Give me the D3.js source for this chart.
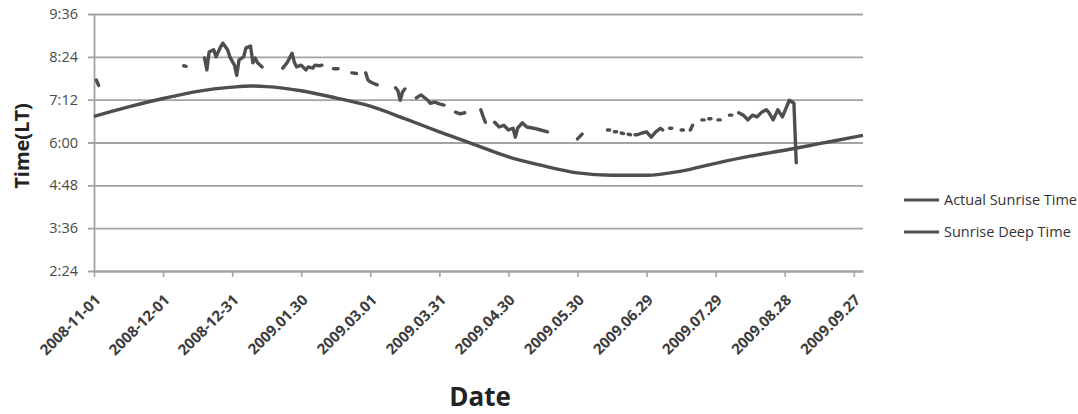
<!DOCTYPE html>
<html><head><meta charset="utf-8">
<script src="https://cdn.jsdelivr.net/npm/d3@7/dist/d3.min.js"></script>
<style>body{margin:0;background:#fff;} svg{display:block;font-family:"Open Sans",sans-serif;}</style>
</head><body><svg id="chart" width="1078" height="414"></svg>
<script>
// ---- data ----
const xTickDates = ["2008-11-01","2008-12-01","2008-12-31","2009-01-30","2009-03-01","2009-03-31","2009-04-30","2009-05-30","2009-06-29","2009-07-29","2009-08-28","2009-09-27"];
const xTickLabels = ["2008-11-01","2008-12-01","2008-12-31","2009.01.30","2009.03.01","2009.03.31","2009.04.30","2009.05.30","2009.06.29","2009.07.29","2009.08.28","2009.09.27"];
const yTickLabels = ["2:24","3:36","4:48","6:00","7:12","8:24","9:36"];

// Actual Sunrise Time (smooth curve)
const sunriseDates = ["2008-11-01","2008-11-16","2008-12-01","2008-12-16","2008-12-31","2009-01-08","2009-01-15","2009-01-30","2009-02-14","2009-03-01","2009-03-16","2009-03-31","2009-04-15","2009-04-30","2009-05-15","2009-05-30","2009-06-14","2009-06-29","2009-07-14","2009-07-29","2009-08-13","2009-08-28","2009-09-12","2009-09-27","2009-10-01"];
const sunriseTimes = ["6:44","7:00","7:14","7:26","7:33","7:35","7:34","7:27","7:15","7:01","6:40","6:18","5:57","5:36","5:21","5:09","5:05","5:05","5:12","5:25","5:37","5:47","5:58","6:09","6:12"];

// Sunrise Deep Time (observed, with gaps = null)
const deepDates = [
 "2008-11-02","2008-11-03","gap",
 "2008-12-10","2008-12-11","gap",
 "2008-12-19","2008-12-20","2008-12-21","2008-12-23","2008-12-24","2008-12-26","2008-12-27","2008-12-29","2008-12-30","2009-01-01","2009-01-02","2009-01-03","2009-01-05","2009-01-06","2009-01-08","2009-01-09","2009-01-10","2009-01-11","2009-01-13","gap",
 "2009-01-22","2009-01-24","2009-01-26","2009-01-27","2009-01-28","2009-01-30","2009-02-01","2009-02-02","2009-02-04","2009-02-05","2009-02-07","2009-02-08","gap",
 "2009-02-13","2009-02-15","gap",
 "2009-02-21","2009-02-23","gap",
 "2009-02-27","2009-02-28","2009-03-01","2009-03-02","2009-03-04","gap",
 "2009-03-12","2009-03-13","2009-03-14","2009-03-15","2009-03-16","gap",
 "2009-03-21","2009-03-23","2009-03-26","2009-03-27","2009-03-29","2009-03-31","2009-04-02","gap",
 "2009-04-07","2009-04-09","2009-04-11","gap",
 "2009-04-18","2009-04-19","2009-04-20","gap",
 "2009-04-24","2009-04-26","2009-04-28","2009-04-30","2009-05-02","2009-05-03","2009-05-04","2009-05-06","2009-05-08","2009-05-11","2009-05-14","2009-05-17","gap",
 "2009-05-30","2009-06-01","gap",
 "2009-06-12","2009-06-13","gap",
 "2009-06-15","2009-06-16","gap",
 "2009-06-18","2009-06-19","gap",
 "2009-06-21","2009-06-22","gap",
 "2009-06-24","2009-06-25","2009-06-27","2009-06-29","2009-07-01","2009-07-03","2009-07-05","2009-07-06","gap",
 "2009-07-09","2009-07-10","gap",
 "2009-07-14","2009-07-15","gap",
 "2009-07-18","2009-07-19","gap",
 "2009-07-23","2009-07-24","gap",
 "2009-07-26","2009-07-27","gap",
 "2009-07-30","2009-07-31","gap",
 "2009-08-04","2009-08-05","gap",
 "2009-08-08","2009-08-10","2009-08-12","2009-08-14","2009-08-16","2009-08-18","2009-08-20","2009-08-21","2009-08-23","2009-08-25","2009-08-27","2009-08-30","2009-09-01","2009-09-02"
];
const deepTimes = [
 "7:45","7:36",null,
 "8:09","8:08",null,
 "8:22","8:02","8:32","8:36","8:24","8:41","8:47","8:36","8:24","8:10","7:53","8:19","8:24","8:39","8:42","8:14","8:22","8:14","8:07",null,
 "8:05","8:15","8:30","8:15","8:07","8:10","8:02","8:07","8:05","8:10","8:09","8:10",null,
 "8:04","8:04",null,
 "7:57","7:56",null,
 "7:57","7:45","7:42","7:40","7:37",null,
 "7:32","7:27","7:11","7:25","7:30",null,
 "7:15","7:20","7:11","7:06","7:08","7:05","7:03",null,
 "6:51","6:48","6:50",null,
 "6:55","6:44","6:34",null,
 "6:34","6:26","6:29","6:21","6:24","6:09","6:24","6:33","6:26","6:24","6:21","6:18",null,
 "6:06","6:14",null,
 "6:21","6:21",null,
 "6:18","6:18",null,
 "6:16","6:15",null,
 "6:14","6:13",null,
 "6:13","6:13","6:16","6:18","6:09","6:18","6:24","6:21",null,
 "6:24","6:24",null,
 "6:21","6:21",null,
 "6:21","6:29",null,
 "6:38","6:38",null,
 "6:40","6:40",null,
 "6:38","6:38",null,
 "6:46","6:46",null,
 "6:50","6:46","6:38","6:46","6:43","6:51","6:55","6:51","6:38","6:55","6:43","7:11","7:06","5:26"
];

const seriesNames = ["Actual Sunrise Time","Sunrise Deep Time"];

// ---- helpers ----
const toMin = s => { const p = s.split(":").map(Number); return p[0]*60 + p[1]; };
const parse = d3.utcParse("%Y-%m-%d");

const L = 94, R = 863, T = 14, B = 271;
const svg = d3.select("#chart");

const x = d3.scaleUtc().domain([parse("2008-11-01"), parse("2009-10-01")]).range([L, R]);
const y = d3.scaleLinear().domain([toMin("2:24"), toMin("9:36")]).range([B, T]);

const gridCol = "#a3a3a3", textCol = "#4a4a4a", lineCol = "#4e4e4e";

// y axis with gridlines
const yAxis = d3.axisLeft(y)
  .tickValues(yTickLabels.map(toMin))
  .tickFormat((d, i) => yTickLabels[i])
  .tickSizeInner(-(R - L)).tickSizeOuter(0).tickPadding(16);
const gy = svg.append("g").attr("transform", `translate(${L},0)`).call(yAxis);
gy.select(".domain").attr("stroke", gridCol).attr("stroke-width", 1.8);
gy.selectAll(".tick line").attr("stroke", gridCol).attr("stroke-width", 1.8).attr("x1", -6);
gy.selectAll(".tick text").attr("fill", textCol).style("font-size", "14.5px").style("font-family", "Open Sans");

// x axis
const xAxis = d3.axisBottom(x)
  .tickValues(xTickDates.map(parse))
  .tickFormat((d, i) => xTickLabels[i])
  .tickSizeInner(6).tickSizeOuter(0);
const gx = svg.append("g").attr("transform", `translate(0,${B})`).call(xAxis);
gx.select(".domain").attr("stroke", gridCol).attr("stroke-width", 1.8);
gx.selectAll(".tick line").attr("stroke", gridCol).attr("stroke-width", 1.6);
gx.selectAll(".tick text")
  .attr("fill", "#3c3c3c").attr("x", 0).attr("y", 0).attr("dy", 0)
  .attr("text-anchor", "end")
  .attr("transform", "translate(7,30) rotate(-45)")
  .style("font-size", "15px").style("font-weight", 700).style("font-family", "Open Sans");

// series
const sunData = sunriseDates.map((d, i) => ({ date: parse(d), v: toMin(sunriseTimes[i]) }));
const deepData = deepDates.map((d, i) => ({ date: d === "gap" ? null : parse(d), v: deepTimes[i] === null ? null : toMin(deepTimes[i]) }));

const sunLine = d3.line().x(d => x(d.date)).y(d => y(d.v)).curve(d3.curveMonotoneX);
const deepLine = d3.line().defined(d => d.v !== null && d.date !== null).x(d => x(d.date)).y(d => y(d.v));

svg.append("path").datum(sunData).attr("d", sunLine)
  .attr("fill", "none").attr("stroke", lineCol).attr("stroke-width", 3.4).attr("stroke-linejoin", "round");
svg.append("path").datum(deepData).attr("d", deepLine)
  .attr("fill", "none").attr("stroke", lineCol).attr("stroke-width", 3.4)
  .attr("stroke-linejoin", "round").attr("stroke-linecap", "round");

// legend
const lg = svg.append("g");
seriesNames.forEach((name, i) => {
  const yy = 200 + i * 32;
  lg.append("line").attr("x1", 904).attr("x2", 939).attr("y1", yy).attr("y2", yy)
    .attr("stroke", lineCol).attr("stroke-width", 2.8);
  lg.append("text").attr("x", 944).attr("y", yy + 5).text(name)
    .attr("fill", "#333").style("font-size", "14.5px");
});

// axis titles
svg.append("text").attr("transform", "translate(29,146) rotate(-90)")
  .attr("text-anchor", "middle").style("font-weight", 700).style("font-size", "20px")
  .attr("fill", "#222").text("Time(LT)");
svg.append("text").attr("x", 480).attr("y", 406)
  .attr("text-anchor", "middle").style("font-weight", 700).style("font-size", "26px")
  .attr("fill", "#222").text("Date");
</script></body></html>
